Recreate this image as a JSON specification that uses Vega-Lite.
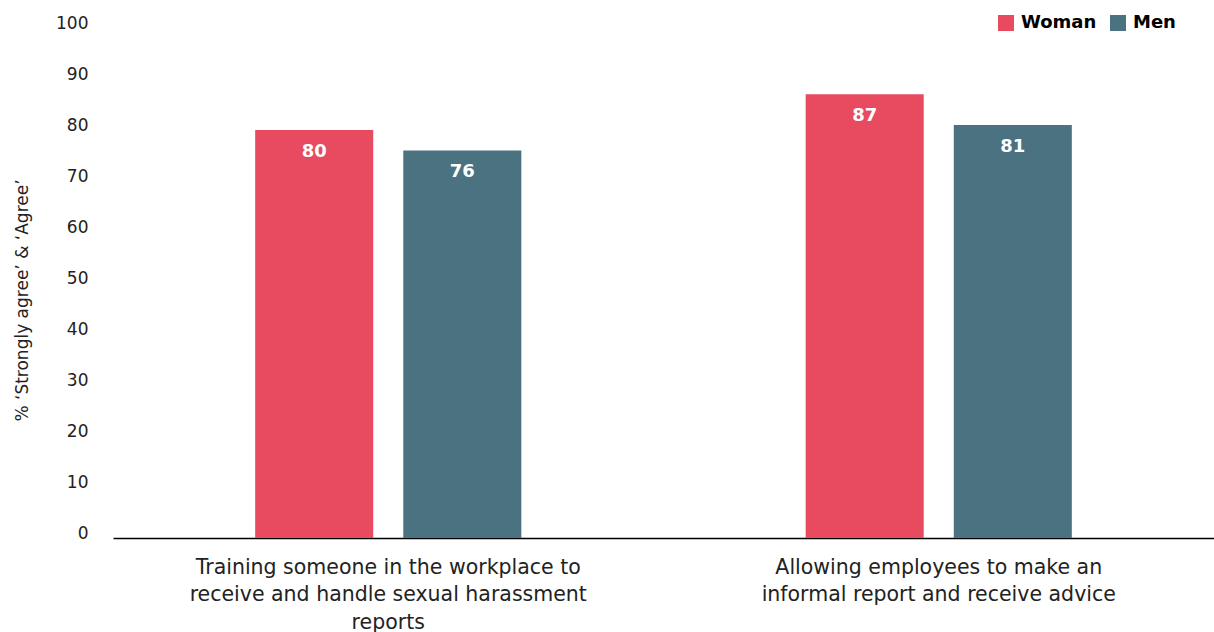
{
  "$schema": "https://vega.github.io/schema/vega-lite/v6.json",
  "width": 1101,
  "height": 510,
  "autosize": {"type": "none"},
  "padding": {"left": 113, "top": 28, "right": 0, "bottom": 94},
  "background": "white",
  "config": {"view": {"stroke": null}, "font": "DejaVu Sans"},
  "data": {"values": [
    {"statement": "Training someone in the workplace to|receive and handle sexual harassment|reports", "gender": "Woman", "value": 80},
    {"statement": "Training someone in the workplace to|receive and handle sexual harassment|reports", "gender": "Men", "value": 76},
    {"statement": "Allowing employees to make an|informal report and receive advice", "gender": "Woman", "value": 87},
    {"statement": "Allowing employees to make an|informal report and receive advice", "gender": "Men", "value": 81}
  ]},
  "encoding": {
    "x": {"field": "statement", "type": "nominal", "sort": null,
      "scale": {"paddingInner": 0, "paddingOuter": 0},
      "axis": {"title": null, "labelAngle": 0, "ticks": false, "domainColor": "#000000", "domainWidth": 1.5,
        "labelExpr": "split(datum.label, '|')", "labelFontSize": 20.5, "labelColor": "#222222", "labelLimit": 0,
        "labelLineHeight": 27.5, "labelPadding": 19, "labelFont": "DejaVu Sans"}},
    "xOffset": {"field": "gender", "type": "nominal", "sort": ["Woman", "Men"],
      "scale": {"paddingInner": 0.203, "paddingOuter": 0.96}},
    "y": {"field": "value", "type": "quantitative",
      "scale": {"domain": [0, 100], "nice": false},
      "axis": {"title": "% ‘Strongly agree’ & ‘Agree’", "values": [0,10,20,30,40,50,60,70,80,90,100],
        "grid": false, "domain": false, "ticks": false, "labelPadding": 25, "labelFontSize": 17,
        "labelColor": "#222222", "labelOffset": -5, "labelFont": "DejaVu Sans",
        "titleFontSize": 17, "titleFontWeight": "normal", "titleColor": "#222222", "titleFont": "DejaVu Sans",
        "titleX": -91, "titleY": 272, "titleAngle": -90, "titleAlign": "center", "titleBaseline": "middle"}}
  },
  "layer": [
    {"mark": {"type": "bar"},
      "encoding": {"color": {"field": "gender", "type": "nominal", "sort": ["Woman", "Men"],
        "scale": {"domain": ["Woman", "Men"], "range": ["#E84A5F", "#4A7280"]},
        "legend": {"title": null, "orient": "none", "direction": "horizontal", "legendX": 884, "legendY": -14,
          "symbolType": "square", "symbolSize": 256, "symbolStrokeWidth": 0, "symbolOpacity": 1,
          "labelFont": "DejaVu Sans", "labelFontSize": 18, "labelFontWeight": "bold", "labelColor": "#000000", "labelOffset": 6,
          "columnPadding": 12}}}},
    {"mark": {"type": "text", "baseline": "top", "dy": 13, "color": "white", "fontSize": 18, "fontWeight": "bold", "font": "DejaVu Sans"},
      "encoding": {"text": {"field": "value", "type": "quantitative"}}}
  ]
}
